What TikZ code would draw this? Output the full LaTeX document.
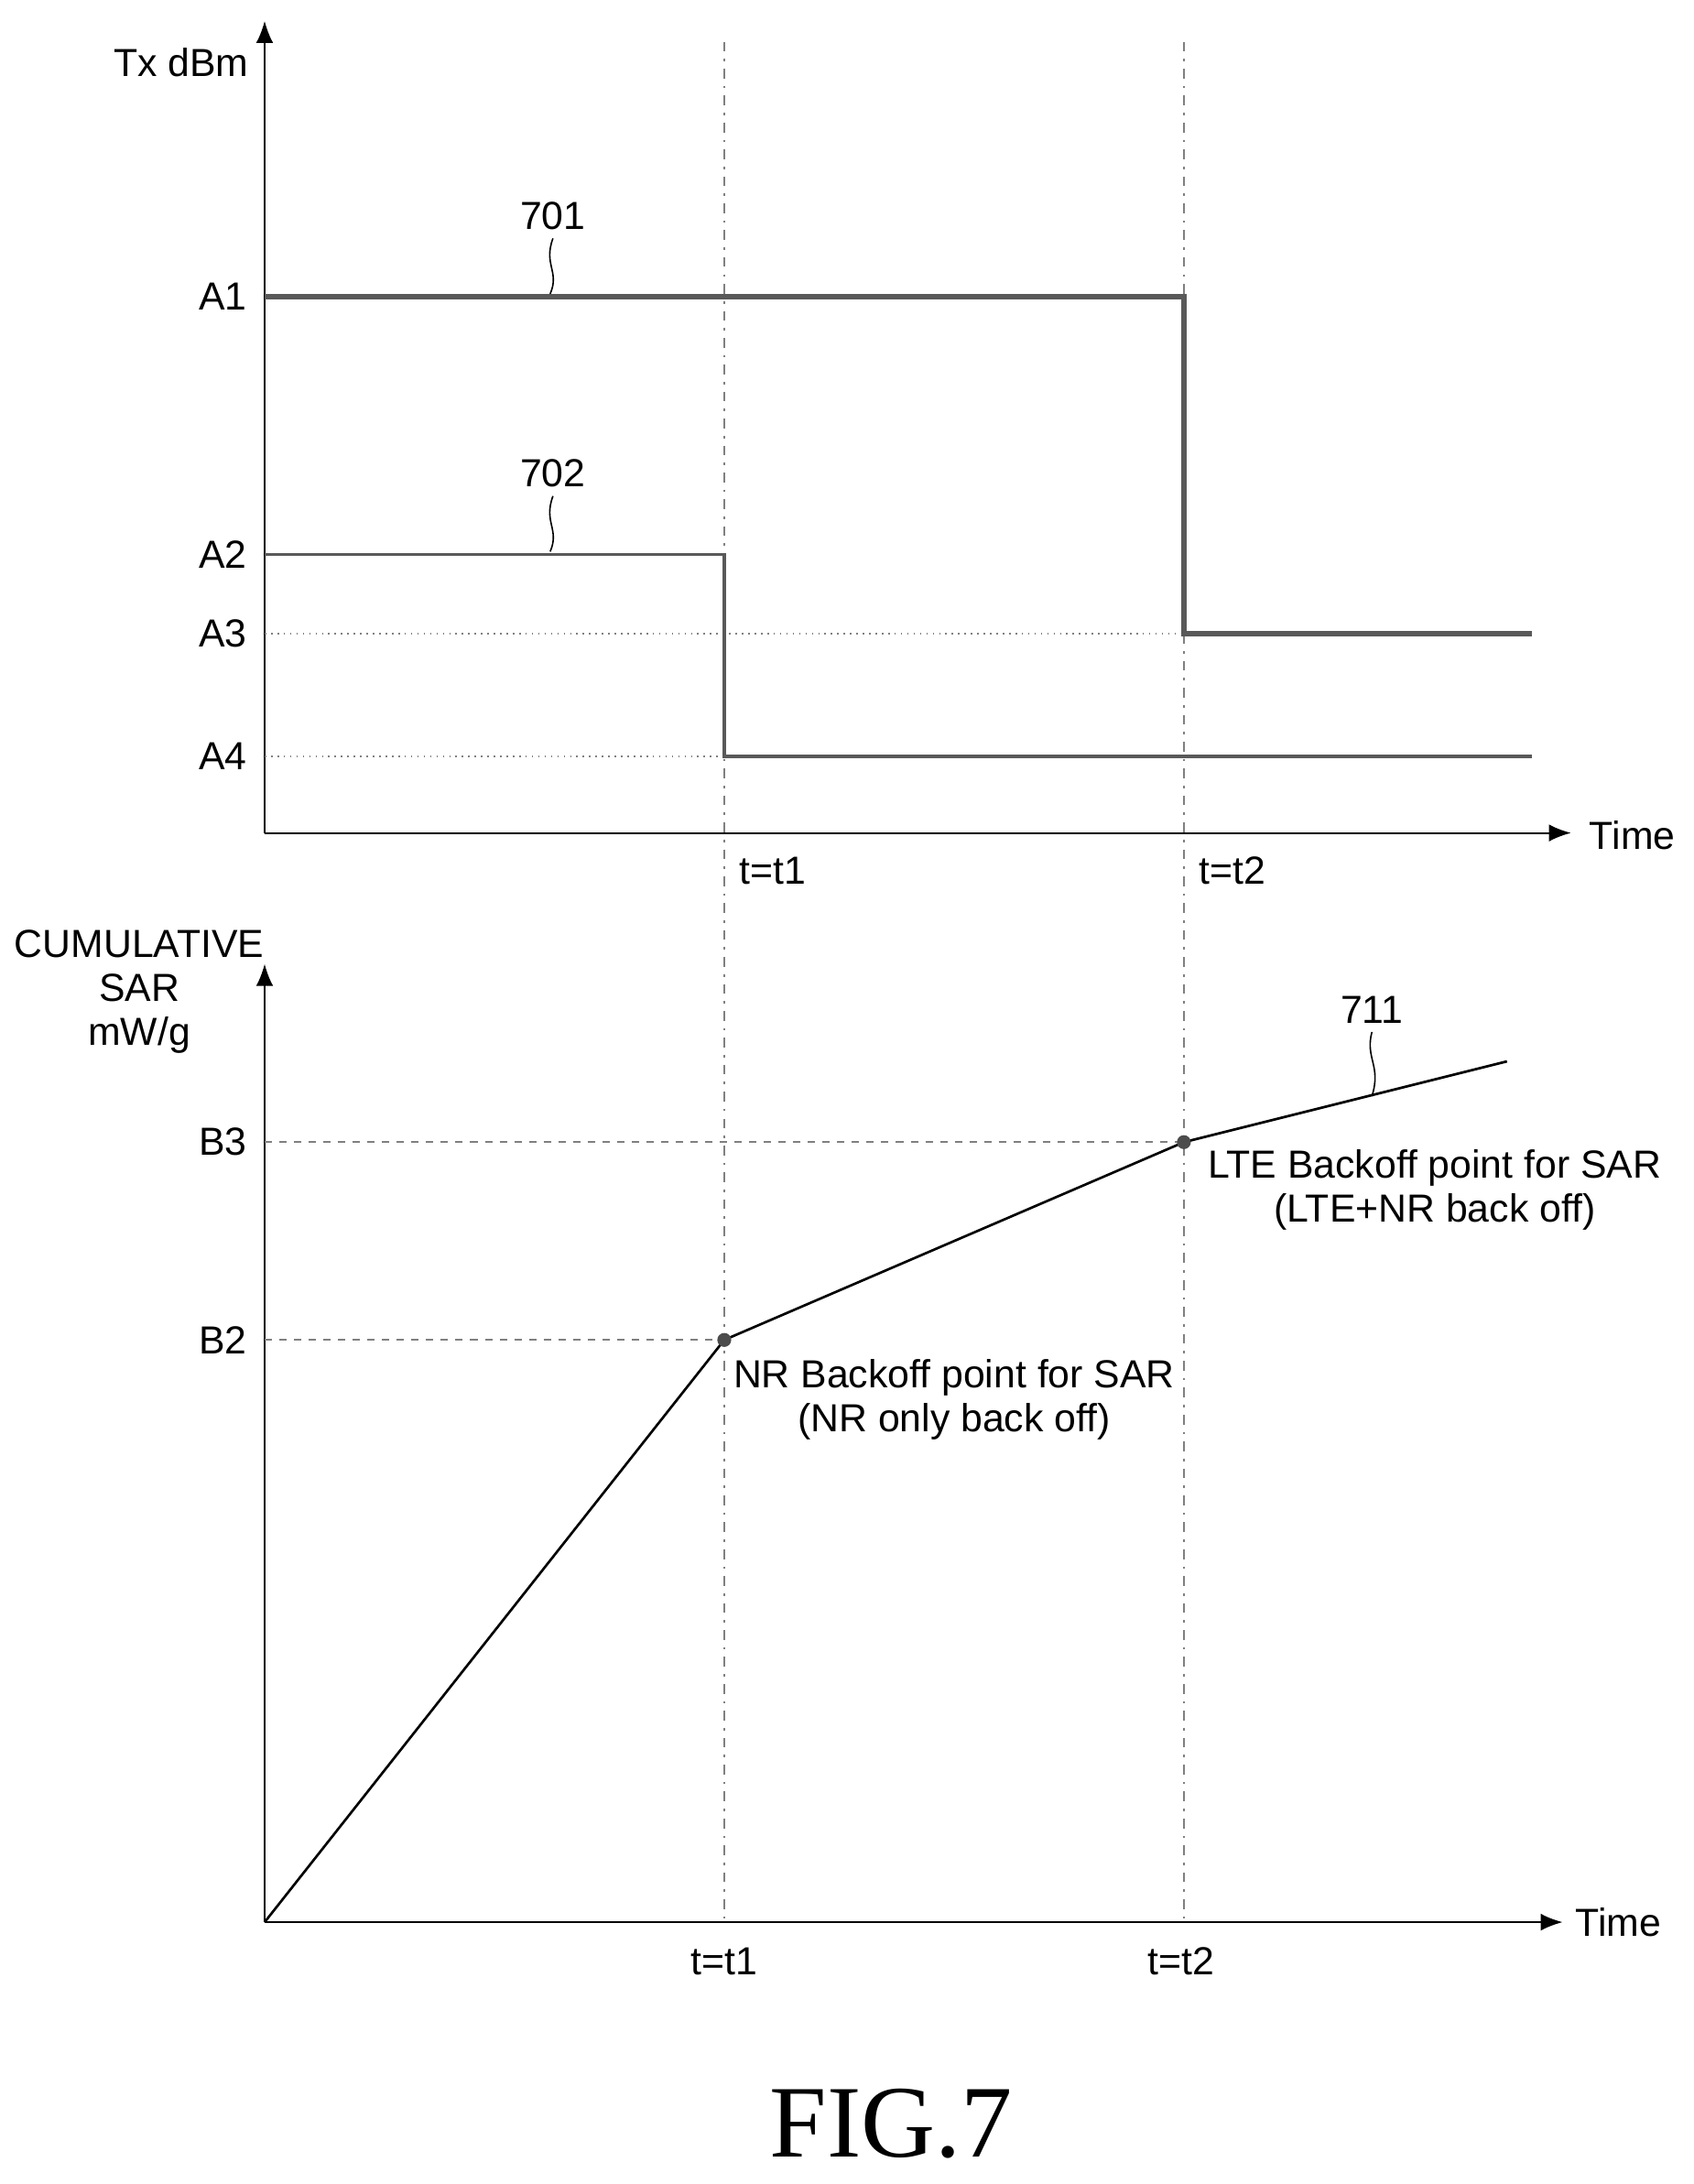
\documentclass[tikz,border=0pt]{standalone}
\usepackage{fontspec}
\setmainfont{Liberation Sans}
\newfontfamily\figfont{Liberation Serif}
\usetikzlibrary{arrows.meta}
\usetikzlibrary{positioning}
\tikzset{
  axis/.style={line width=0.8pt,-{Latex[length=9pt,width=7pt]}},
  guide/.style={gray,dash pattern=on 4pt off 3pt on 1pt off 3pt,line width=0.6pt},
  level/.style={gray,dashed,line width=0.6pt},
  lbl/.style={font=\fontsize{16}{18}\selectfont},
  leader/.style={line width=0.6pt},
}
\begin{document}
\begin{tikzpicture}[x=0.02cm,y=-0.02cm]
    \useasboundingbox (0,0) rectangle (1216,1568);
    % time markers
    \draw[guide] (520,30) -- (520,1380);
    \draw[guide] (850,30) -- (850,1380);
    % upper plot
    \draw[axis] (190,598) -- (190,15);
    \draw[axis] (190,598) -- (1128,598);
    \node[lbl] (txlab) at (130,45) {Tx dBm};
    \node[lbl] (time1) at (1172,600) {Time};
    \node[lbl] (a1) at (160,213) {A1};
    \node[lbl] (a2) at (160,398) {A2};
    \node[lbl] (a3) at (160,455) {A3};
    \node[lbl] (a4) at (160,543) {A4};
    \draw[level,dotted] (190,455) -- (850,455);
    \draw[level,dotted] (190,543) -- (520,543);
    \draw[line width=2.2pt,gray!70!black] (190,213) -- (850,213) -- (850,455) -- (1100,455);
    \draw[line width=1.4pt,gray!70!black] (190,398) -- (520,398) -- (520,543) -- (1100,543);
    \node[lbl] (n701) at (397,155) {701};
    \node[lbl] (n702) at (397,340) {702};
    \draw[leader] (n701.south) .. controls (390,190) and (402,195) .. (395,211);
    \draw[leader] (n702.south) .. controls (390,375) and (402,380) .. (395,396);
    \node[lbl] (t1a) at (555,625) {t=t1};
    \node[lbl] (t2a) at (885,625) {t=t2};
    % lower plot
    \draw[axis] (190,1380) -- (190,692);
    \draw[axis] (190,1380) -- (1122,1380);
    \node[lbl,align=center] (sarlab) at (100,712) {CUMULATIVE\\SAR\\mW/g};
    \node[lbl] (time2) at (1162,1380) {Time};
    \node[lbl] (b3) at (160,820) {B3};
    \node[lbl] (b2) at (160,962) {B2};
    \coordinate (o) at (190,1380);
    \coordinate (p1) at (520,962);
    \coordinate (p2) at (850,820);
    \coordinate (p3) at (1082,762);
    \draw[level] (190,962) -- (p1);
    \draw[level] (190,820) -- (p2);
    \draw[line width=1pt] (o) -- (p1) -- (p2) -- (p3);
    \fill[gray!60!black] (p1) circle (5);
    \fill[gray!60!black] (p2) circle (5);
    \node[lbl] (n711) at (985,725) {711};
    \draw[leader] (n711.south) .. controls (980,760) and (992,765) .. (985,787);
    \node[lbl,align=center] (nrpt) at (685,1005) {NR Backoff point for SAR\\(NR only back off)};
    \node[lbl,align=center] (ltept) at (1030,854) {LTE Backoff point for SAR\\(LTE+NR back off)};
    \node[lbl] (t1b) at (520,1408) {t=t1};
    \node[lbl] (t2b) at (848,1408) {t=t2};
    \node[font=\figfont\fontsize{42}{46}\selectfont] (fig) at (640,1525) {FIG.7};
\end{tikzpicture}
\end{document}
